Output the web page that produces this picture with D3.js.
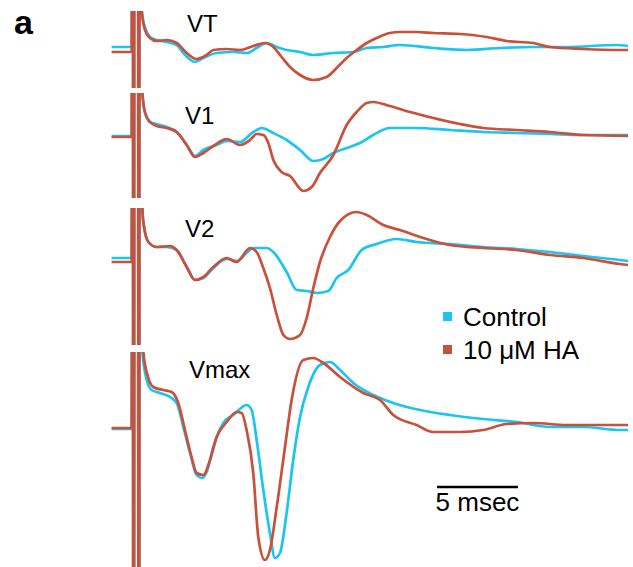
<!DOCTYPE html>
<html>
<head>
<meta charset="utf-8">
<script src="https://cdn.jsdelivr.net/npm/d3@7"></script>
<style>
  html, body { margin: 0; padding: 0; background: #fff; }
  svg { display: block; font-family: "Liberation Sans", Arial, sans-serif; }
</style>
</head>
<body>
<div id="chart"></div>
<script>
  // shared config
  var width  = 633,
      height = 567;

  var colCtl = '#1bc5f0',
      colHA  = '#c9503a';

  // series labels
  var seriesNames = ['Control', '10 \u03bcM HA'];
  var panelNames  = ['VT', 'V1', 'V2', 'Vmax'];

  // stimulus artifact (ms, off-scale values)
  var stimT = [1.39, 1.46, 1.53, 1.71, 1.78, 1.85],
      stimV = [60, -60, 60, 60, -60, 60];

  // traces: [time ms, amplitude]
  var vtControl = [
    [0.1,0],[1.34,0],
    [1.96,3.6],[2.27,1.5],[2.47,1.0],[2.88,0.7],[3.5,0.5],[4.12,0.2],[4.53,-0.6],[5.25,-1.5],
    [5.77,-1.1],[6.59,-0.6],[7.62,-0.5],[8.44,-0.6],[9.06,-0.1],[9.68,0.4],[10.3,0],[10.91,-0.3],
    [11.74,-0.5],[12.56,-0.8],[13.8,-0.6],[15.03,-0.5],[15.86,-0.1],[16.88,0],[17.91,0.2],
    [19.97,-0.1],[22.05,-0.3],[24.09,-0.1],[26.15,0],[28.21,0],[31.3,0.2],[32,0.1]
  ];
  var vtHA = [
    [0.1,-0.5],[1.34,-0.5],
    [1.96,3.6],[2.16,1.7],[2.47,0.9],[2.88,0.6],[3.5,0.7],[4.12,0.4],[4.74,-0.6],[5.35,-1.2],
    [5.97,-0.8],[6.38,-0.3],[7.21,-0.2],[8.03,-0.3],[8.85,0.1],[9.57,0.4],[10.09,0],[10.6,-1.0],
    [11.12,-2.0],[11.74,-2.8],[12.56,-3.3],[13.38,-3.0],[14.0,-2.1],[14.62,-1.1],[15.24,-0.3],
    [15.86,0.4],[16.47,0.9],[17.29,1.4],[17.91,1.5],[18.94,1.5],[19.97,1.4],[21.62,1.3],
    [23.27,1.0],[24.5,0.6],[26.15,0.4],[27.18,0],[29.23,-0.2],[31.3,-0.3],[32,-0.3]
  ];

  var v1Control = [
    [0.1,0],[1.34,0],
    [2.0,4.3],[2.16,2.3],[2.47,1.4],[2.88,1.2],[3.5,0.9],[4.12,0.4],[4.74,-0.9],[5.25,-2.0],
    [5.77,-1.4],[6.59,-0.9],[7.21,-0.5],[8.03,-0.6],[8.85,0.4],[9.37,0.8],[10.09,0.3],[10.91,-0.4],
    [11.74,-1.4],[12.56,-2.5],[13.18,-2.3],[13.8,-1.7],[14.62,-1.2],[15.44,-0.7],[16.26,0.1],
    [17.29,0.8],[18.94,0.8],[21.0,0.6],[23.06,0.4],[25.12,0.3],[27.18,0.2],[29.23,0.1],[32,0.1]
  ];
  var v1HA = [
    [0.1,-0.1],[1.34,-0.1],
    [2.0,4.3],[2.16,2.4],[2.47,1.4],[2.88,1.0],[3.5,0.8],[4.12,0.4],[4.74,-0.9],[5.25,-2.1],
    [5.77,-1.7],[6.38,-1.0],[7.21,-0.3],[8.03,-0.9],[8.65,-0.4],[9.06,0.2],[9.47,0.1],[9.78,-0.7],
    [10.09,-2.4],[10.6,-3.6],[11.12,-4.0],[11.94,-5.5],[12.46,-5.1],[12.97,-3.7],[13.8,-1.9],
    [14.62,1.1],[15.24,2.4],[15.86,3.3],[16.26,3.4],[17.29,3.0],[18.53,2.4],[19.97,1.8],
    [21.62,1.2],[23.06,0.8],[25.12,0.6],[27.18,0.4],[29.23,0.1],[32,0]
  ];

  var v2Control = [
    [0.1,0.1],[1.34,0.1],
    [2.0,5.1],[2.06,3.7],[2.37,1.7],[2.88,1.2],[3.5,1.2],[4.12,0.9],[4.74,-0.8],[5.25,-2.1],
    [5.77,-1.9],[6.38,-0.9],[7.21,0],[7.82,-0.2],[8.44,0.6],[8.85,1.1],[9.68,1.1],[10.09,0.7],
    [10.91,-1.3],[11.53,-3.1],[12.15,-3.2],[12.77,-3.4],[13.49,-3.2],[14.0,-1.9],[14.72,-1.1],
    [15.55,0.9],[16.47,1.5],[17.71,2.0],[18.94,1.7],[21.0,1.5],[23.06,1.2],[25.12,1.0],
    [27.18,0.7],[29.23,0.3],[31.5,-0.1],[32,-0.2]
  ];
  var v2HA = [
    [0.1,-0.3],[1.34,-0.3],
    [2.0,5.1],[2.06,3.7],[2.37,1.7],[2.88,1.2],[3.71,1.3],[4.12,0.9],[4.74,-0.8],[5.25,-2.1],
    [5.77,-1.8],[6.38,-0.8],[7.21,0.1],[7.82,-0.3],[8.65,1.1],[9.06,0.7],[9.47,-0.9],[9.88,-2.9],
    [10.3,-5.6],[10.71,-7.6],[11.12,-8.0],[11.74,-7.6],[12.15,-5.9],[12.56,-2.9],[12.97,-0.3],
    [13.59,2.2],[14.21,3.8],[15.24,4.7],[15.86,4.4],[16.88,3.4],[17.91,2.9],[19.35,2.1],
    [21.0,1.4],[23.06,1.1],[25.12,0.9],[27.18,0.4],[29.23,0.1],[31.5,-0.5],[32,-0.6]
  ];

  var vmaxControl = [
    [0.1,-0.1],[1.34,-0.1],
    [2.0,7.6],[2.27,4.8],[2.57,3.8],[3.09,3.5],[3.71,3.1],[4.12,2.5],[4.53,0.1],[4.94,-2.5],
    [5.35,-4.7],[5.66,-5.0],[5.97,-4.4],[6.38,-1.9],[7.0,0.5],[7.62,1.3],[8.44,2.3],[8.75,1.8],
    [9.06,-1.2],[9.47,-6.2],[9.88,-10.5],[10.19,-13.0],[10.5,-12.5],[10.91,-8.5],[11.32,-3.2],
    [11.74,1.1],[12.25,4.1],[12.97,6.3],[13.59,6.6],[14.21,5.8],[15.03,4.5],[16.26,3.3],
    [17.5,2.5],[19.15,1.8],[21.0,1.3],[23.06,0.9],[25.12,0.6],[27.18,0.1],[29.23,0.1],[31.5,-0.2],[32,-0.2]
  ];
  var vmaxHA = [
    [0.1,0],[1.34,0],
    [2.06,7.6],[2.37,5.0],[2.68,4.1],[3.29,3.8],[3.81,3.6],[4.22,2.5],[4.63,-0.2],[5.04,-2.9],
    [5.35,-4.5],[5.77,-4.7],[6.18,-3.2],[6.59,-0.9],[7.21,0.6],[7.82,1.6],[8.13,1.5],[8.44,-0.2],
    [8.85,-4.5],[9.16,-10.9],[9.57,-13.2],[9.88,-12.2],[10.3,-7.9],[10.81,-1.9],[11.22,2.8],
    [11.94,6.8],[12.56,7.0],[13.18,6.5],[14.21,5.1],[15.65,3.5],[16.68,2.8],[17.5,1.3],
    [18.94,0.3],[19.97,-0.4],[21.62,-0.4],[23.06,-0.2],[24.5,0.4],[26.15,0.5],[28.21,0.3],[31.5,0.3],[32,0.3]
  ];

  // scale bar
  var scaleBarMs = 5,
      scaleBarLabel = '5 msec';

  // ** layout **
  var panels = [
    {name: panelNames[0], ctl: vtControl,   ha: vtHA,   base: 47,  top: 11,  bottom: 88,  labelX: 187, labelY: 32},
    {name: panelNames[1], ctl: v1Control,   ha: v1HA,   base: 136, top: 93,  bottom: 198, labelX: 185, labelY: 124},
    {name: panelNames[2], ctl: v2Control,   ha: v2HA,   base: 259, top: 208, bottom: 345, labelX: 185, labelY: 237},
    {name: panelNames[3], ctl: vmaxControl, ha: vmaxHA, base: 428, top: 352, bottom: 567, labelX: 189, labelY: 378}
  ];

  var x = d3.scaleLinear().domain([0, 32]).range([110, 628]);

  var svg = d3.select('#chart').append('svg')
    .attr('width', width)
    .attr('height', height);

  var defs = svg.append('defs');

  // add the stimulus spikes into a trace
  function withStim(d){
    var stim = stimT.map(function(t, i){ return [t, stimV[i]] });
    return d.filter(function(p){ return p[0] < stimT[0] })
      .concat(stim, d.filter(function(p){ return p[0] > stimT[stimT.length - 1] }));
  }

  panels.forEach(function(p, i){
    var y = d3.scaleLinear().domain([-1, 1]).range([p.base + 10, p.base - 10]);

    defs.append('clipPath').attr('id', 'clip' + i)
      .append('rect')
      .attr('x', 100).attr('y', p.top)
      .attr('width', 532).attr('height', p.bottom - p.top);

    var line = d3.line()
      .x(function(d){ return x(d[0]) })
      .y(function(d){ return y(d[1]) })
      .curve(d3.curveMonotoneX);

    var g = svg.append('g').attr('clip-path', 'url(#clip' + i + ')');

    g.append('path')
      .attr('d', line(withStim(p.ctl)))
      .attr('fill', 'none')
      .attr('stroke', colCtl)
      .attr('stroke-width', 2.7)
      .attr('stroke-linejoin', 'round');

    g.append('path')
      .attr('d', line(withStim(p.ha)))
      .attr('fill', 'none')
      .attr('stroke', colHA)
      .attr('stroke-width', 2.7)
      .attr('stroke-linejoin', 'round');

    svg.append('text')
      .attr('x', p.labelX)
      .attr('y', p.labelY)
      .attr('font-size', 24)
      .text(p.name);
  });

  // legend
  var legend = svg.append('g').attr('transform', 'translate(443, 0)');
  [colCtl, colHA].forEach(function(c, i){
    var ly = 326 + i * 33;
    legend.append('rect')
      .attr('x', 0).attr('y', ly - 14)
      .attr('width', 9).attr('height', 9)
      .attr('fill', c);
    legend.append('text')
      .attr('x', 20).attr('y', ly)
      .attr('font-size', 26)
      .text(seriesNames[i]);
  });

  // scale bar
  var x0 = 437;
  svg.append('line')
    .attr('x1', x0).attr('x2', x0 + x(scaleBarMs) - x(0))
    .attr('y1', 487).attr('y2', 487)
    .attr('stroke', '#000')
    .attr('stroke-width', 2.5);
  svg.append('text')
    .attr('x', x0 + (x(scaleBarMs) - x(0)) / 2)
    .attr('y', 511)
    .attr('text-anchor', 'middle')
    .attr('font-size', 26)
    .text(scaleBarLabel);

  // panel letter
  svg.append('text')
    .attr('x', 14).attr('y', 34)
    .attr('font-size', 34)
    .attr('font-weight', 'bold')
    .text('a');
</script>
</body>
</html>
